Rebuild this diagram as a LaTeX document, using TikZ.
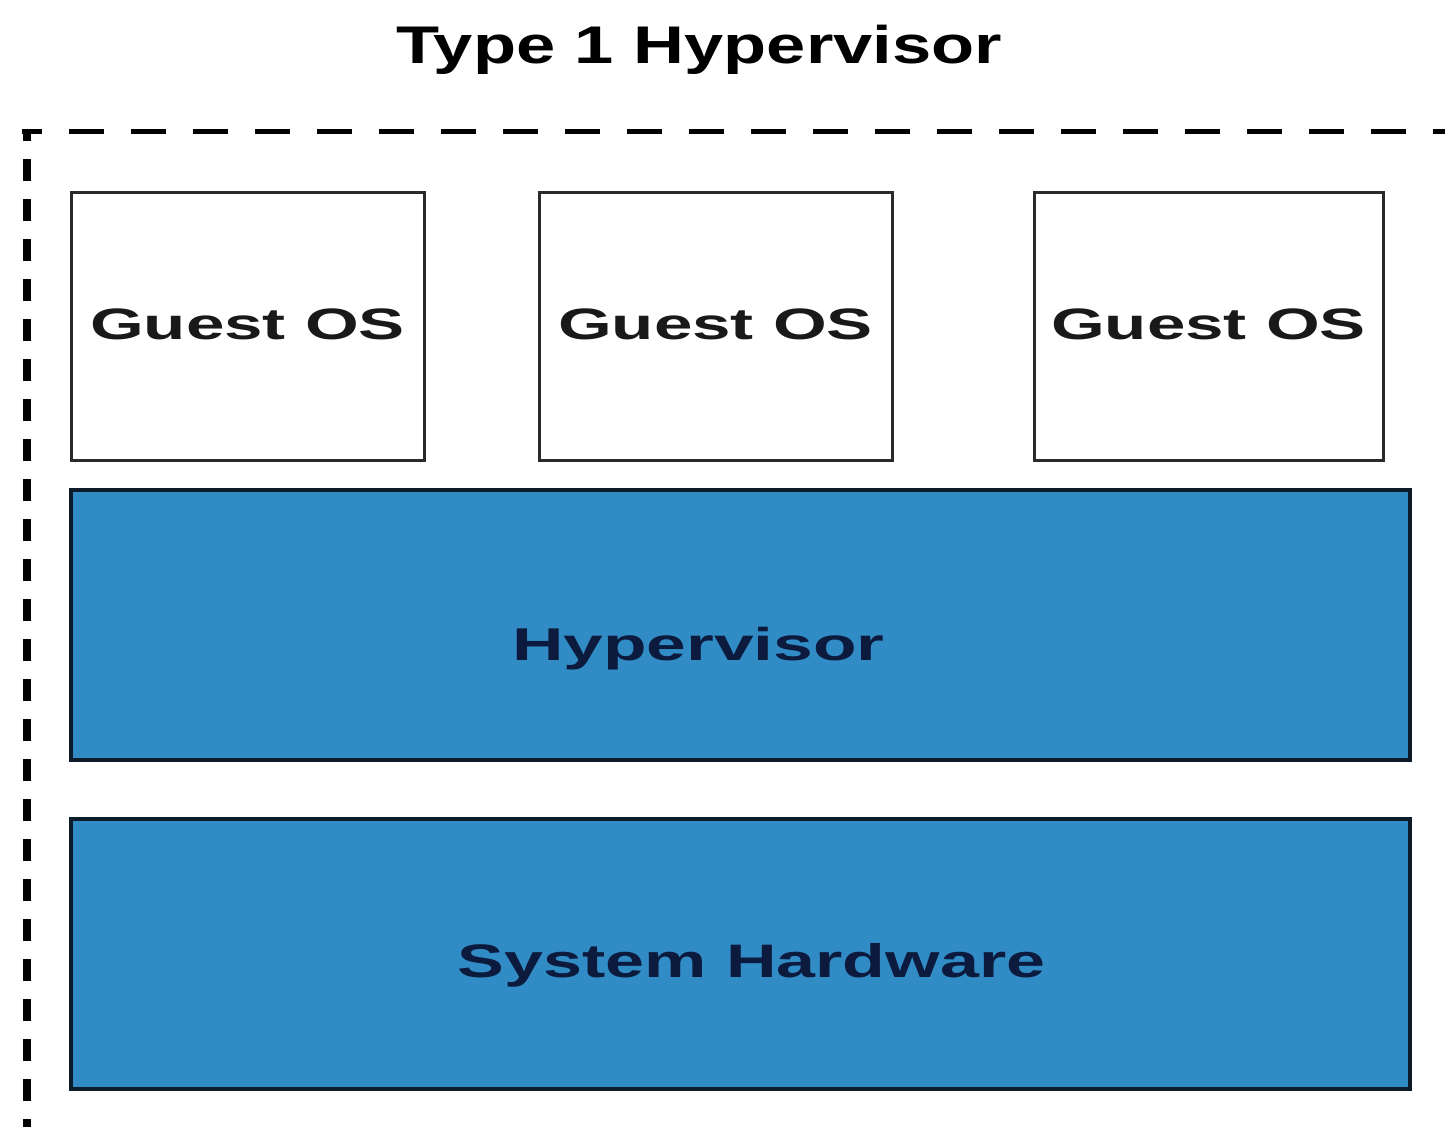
\documentclass[tikz,border=0pt]{standalone}
\usepackage{fontspec}
\usepackage{xcolor}
\usepackage{graphicx}
\setmainfont{Liberation Sans}

\definecolor{layerblue}{HTML}{318CC6}
\definecolor{layerline}{HTML}{0D1A2A}
\definecolor{layertext}{HTML}{0C1A3D}
\definecolor{guestline}{HTML}{2A2A2A}

\tikzset{
    guestbox/.style={draw=guestline, line width=3pt, fill=white, inner sep=0pt,
        minimum height=268pt},
    layerbox/.style={draw=layerline, line width=4pt, fill=layerblue, inner sep=0pt,
        minimum width=1339pt, minimum height=270pt},
    boxlabel/.style={anchor=base, inner sep=0pt, font=\bfseries}
}

\begin{document}
\begin{tikzpicture}[x=1pt, y=-1pt]
    \useasboundingbox (0,0) rectangle (1445,1127);
    \fill[white] (0,0) rectangle (1445,1127);

    % Title
    \node[boxlabel, font=\fontsize{53}{60}\selectfont\bfseries] (title) at (699,63)
        {\scalebox{1.33}[1]{Type 1 Hypervisor}};

    % Dashed frame (runs off the right and bottom edges)
    \draw[line width=5pt, dash pattern=on 35pt off 27pt, dash phase=15pt] (22,131) -- (1445,131);
    \draw[line width=8pt, dash pattern=on 22pt off 18pt, dash phase=10pt] (27,129) -- (27,1127);

    % Guest OS boxes
    \foreach \i/\x/\w in {1/247.5/353, 2/715.5/353, 3/1208.5/349} {
        \node[guestbox, minimum width=\w pt] (guest\i) at (\x,326) {};
        \node[boxlabel, font=\fontsize{44}{50}\selectfont\bfseries, text=black!90]
            (guestlabel\i) at ([yshift=-13pt]guest\i.center) {\scalebox{1.57}[1]{Guest OS}};
    }

    % Hypervisor and hardware layers
    \node[layerbox] (hyper) at (740.5,625) {};
    \node[boxlabel, font=\fontsize{46}{52}\selectfont\bfseries, text=layertext]
        (hyperlabel) at ([shift={(-42pt,-35pt)}]hyper.center) {\scalebox{1.55}[1]{Hypervisor}};

    \node[layerbox] (hw) at (740.5,954) {};
    \node[boxlabel, font=\fontsize{47}{53}\selectfont\bfseries, text=layertext]
        (hwlabel) at ([shift={(11pt,-23pt)}]hw.center) {\scalebox{1.49}[1]{System Hardware}};
\end{tikzpicture}
\end{document}
